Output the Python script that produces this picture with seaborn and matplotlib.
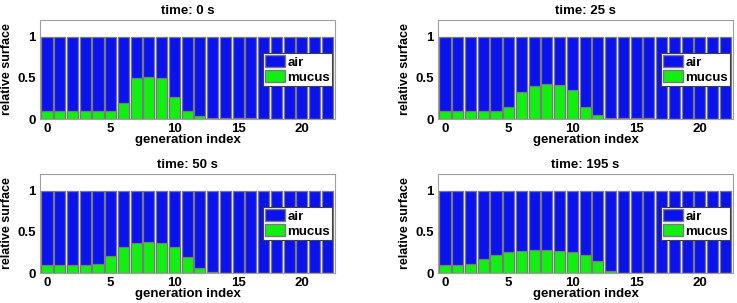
import numpy as np
import pandas as pd
import matplotlib
matplotlib.use("Agg")
import matplotlib.pyplot as plt
from matplotlib.patches import Patch
import seaborn as sns

gen = list(range(23))
titles = ["time: 0 s", "time: 25 s", "time: 50 s", "time: 195 s"]

mucus_0 = [0.1, 0.1, 0.1, 0.1, 0.1, 0.1, 0.2, 0.5, 0.51, 0.5, 0.27, 0.1, 0.04,
           0.01, 0.01, 0.01, 0.01, 0, 0, 0, 0, 0, 0]
mucus_25 = [0.1, 0.1, 0.1, 0.1, 0.1, 0.14, 0.33, 0.4, 0.42, 0.41, 0.35, 0.14, 0.05,
            0.01, 0.01, 0.01, 0.01, 0, 0, 0, 0, 0, 0]
mucus_50 = [0.1, 0.095, 0.1, 0.1, 0.11, 0.21, 0.32, 0.36, 0.37, 0.36, 0.32, 0.2, 0.06,
            0.01, 0.005, 0.005, 0.005, 0, 0, 0, 0, 0, 0]
mucus_195 = [0.1, 0.095, 0.115, 0.17, 0.215, 0.25, 0.27, 0.28, 0.28, 0.27, 0.255, 0.215, 0.145,
             0.025, 0.005, 0.005, 0.005, 0, 0, 0, 0, 0, 0]
total = [1.0] * 23

blue = "#0a12ee"
green = "#12f012"
edge = "#7a7a7a"

sns.set_style("white")
plt.rcParams["font.family"] = ["Liberation Sans", "DejaVu Sans"]
plt.rcParams["font.weight"] = "bold"
plt.rcParams["text.color"] = "black"
plt.rcParams["axes.labelcolor"] = "black"
plt.rcParams["xtick.color"] = "black"
plt.rcParams["ytick.color"] = "black"

fig = plt.figure(figsize=(7.37, 3.03), dpi=100)
W, H = 737, 303
boxes = [(40, 20), (438, 20), (40, 174), (438, 174)]
aw, ah = 295, 99

for (x0, y0), title, mucus in zip(boxes, titles, [mucus_0, mucus_25, mucus_50, mucus_195]):
    ax = fig.add_axes([x0 / W, 1 - (y0 + ah) / H, aw / W, ah / H])
    df = pd.DataFrame({"gen": gen, "total": total, "mucus": mucus})
    sns.barplot(data=df, x="gen", y="total", color=blue, saturation=1,
                width=0.87, edgecolor=edge, linewidth=0.9, ax=ax, native_scale=True)
    sns.barplot(data=df, x="gen", y="mucus", color=green, saturation=1,
                width=0.87, edgecolor=edge, linewidth=0.9, ax=ax, native_scale=True)
    ax.set_xlim(-0.55, 22.6)
    ax.set_ylim(0, 1.2)
    ax.set_xticks([0, 5, 10, 15, 20])
    ax.set_xticklabels(["0", "5", "10", "15", "20"])
    ax.set_yticks([0, 0.5, 1])
    ax.set_yticklabels(["0", "0.5", "1"])
    ax.tick_params(labelsize=9.5, length=0, pad=3)
    for s in ax.spines.values():
        s.set_color("#a0a0a0")
        s.set_linewidth(0.8)
    ax.set_title(title, fontsize=9.5, fontweight="bold", pad=4)
    ax.set_xlabel("generation index", fontsize=9.5, fontweight="bold", labelpad=-1)
    ax.set_ylabel("relative surface", fontsize=9, fontweight="bold", labelpad=3)
    handles = [Patch(facecolor=blue, edgecolor=edge, label="air"),
               Patch(facecolor=green, edgecolor=edge, label="mucus")]
    leg = ax.legend(handles=handles, loc="center right", bbox_to_anchor=(0.995, 0.5),
                    fontsize=9.5, frameon=True, fancybox=False, framealpha=1,
                    handlelength=1.5, handleheight=1.05, handletextpad=0.2,
                    borderpad=0.15, labelspacing=0.1, borderaxespad=0.1)
    leg.get_frame().set_edgecolor("#404040")
    leg.get_frame().set_linewidth(0.8)
    for t in leg.get_texts():
        t.set_fontweight("bold")

fig.savefig("out.png", dpi=100)
